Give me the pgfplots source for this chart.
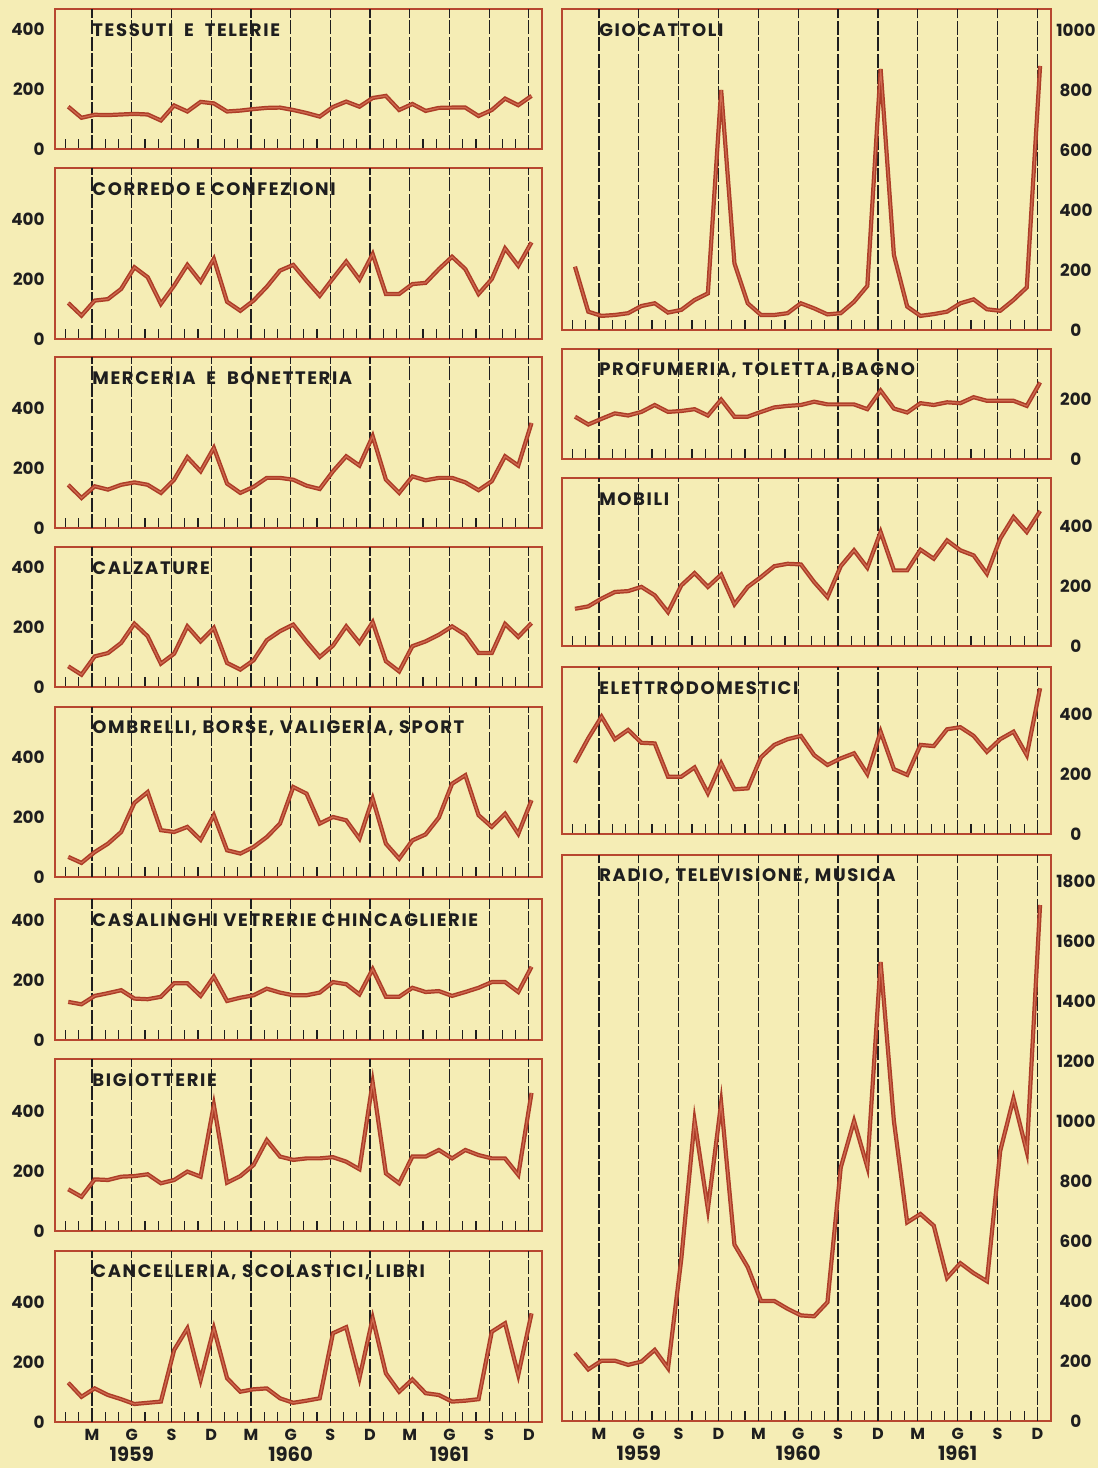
\documentclass[border=0pt]{standalone}
\usepackage{pgfplots}
\usepackage{pgfplotstable}
\pgfplotsset{compat=1.18}
\usepackage{fontspec}
\setmainfont{Poppins}
\newfontfamily\titlefam{Poppins}[LetterSpace=9]
\definecolor{bgc}{HTML}{F5EDB5}
\definecolor{frm}{HTML}{B8472F}
\definecolor{lin}{HTML}{AC3D27}
\definecolor{linc}{HTML}{CF6B50}
\definecolor{ink}{HTML}{1E1E1E}

\pgfplotstableread{
m  tes cor mer cal omb cas big can gio pro mob ele rad
1  141 120 144 69  67  127 139 131 211 141 124 238 226
2  104 78  100 41  47  119 114 84  61  115 132 319 172
3  114 128 139 102 83  147 172 112 47  134 158 391 201
4  113 133 128 113 111 156 170 90  50  152 180 316 201
5  115 167 144 147 150 166 181 76  56  145 183 347 187
6  117 239 152 211 247 138 183 60  80  157 197 304 198
7  115 206 144 169 283 136 189 64  89  180 169 302 237
8  95  117 117 78  156 144 159 68  58  157 113 191 176
9  145 178 161 111 150 189 170 240 67  160 202 191 540
10 125 247 236 202 167 189 198 312 100 166 243 222 1000
11 157 191 189 152 124 147 181 140 122 145 197 136 707
12 152 267 267 197 206 211 420 312 800 198 238 236 1060
13 125 124 148 80  89  130 161 146 222 141 139 149 588
14 128 94  117 58  78  141 183 101 89  141 197 152 513
15 133 128 137 89  100 149 220 109 50  157 230 256 400
16 137 174 167 156 133 171 303 112 50  172 266 297 400
17 138 228 167 186 178 158 248 79  56  177 274 316 374
18 130 247 161 208 300 149 237 64  89  180 272 327 352
19 120 194 141 152 278 149 242 71  72  191 213 263 349
20 108 144 130 100 178 158 242 79  52  182 163 230 396
21 140 202 189 138 200 193 246 296 56  182 266 252 845
22 158 258 239 202 189 186 231 316 94  182 319 269 1000
23 141 198 208 147 128 152 206 146 147 166 261 200 847
24 170 283 306 216 261 236 495 346 870 228 380 341 1530
25 177 150 161 86  111 144 192 162 250 168 252 216 1000
26 130 150 117 52  61  144 159 101 78  155 252 197 662
27 150 183 172 136 122 174 248 142 47  186 321 297 690
28 127 187 159 152 142 160 248 96  53  180 291 293 651
29 137 233 167 174 198 163 270 90  61  189 352 349 477
30 138 274 167 202 311 147 242 68  89  186 319 356 526
31 138 233 152 174 339 160 270 71  102 206 302 327 493
32 110 150 126 113 206 174 253 76  69  194 241 274 466
33 130 200 156 113 167 193 242 301 64  194 358 316 900
34 168 302 239 210 211 193 242 329 100 194 430 341 1075
35 146 244 208 167 144 160 187 157 142 177 380 263 898
36 177 322 350 213 256 244 460 362 880 255 450 486 1720
}\data

\newcommand\titlef{\titlefam\bfseries\fontsize{9}{10}\selectfont}
\newcommand\tickf{\bfseries\fontsize{8.4}{9}\selectfont}

\pgfplotsset{
  panel/.style={
    scale only axis, clip=false,
    xmin=0.23, xmax=37.0, ymin=0,
    axis line style={frm, line width=1pt},
    xtick={1,...,36}, xticklabels={}, xtick pos=left,
    major tick length=5pt, tick align=inside,
    xtick style={ink, line width=0.6pt},
    extra x ticks={3,6,...,36},
    extra x tick labels={},
    extra x tick style={grid=major, major grid style={ink, line width=0.6pt, dash pattern=on 7pt off 1.2pt}},
    ytick style={draw=none},
    yticklabel style={font=\tickf, text=ink},
    /pgf/number format/assume math mode=true,
    /pgf/number format/1000 sep={},
    anchor=south west,
  },
  leftp/.style={panel, width=243.35pt, yticklabel pos=left, ytick={0,200,400},
    yticklabel style={anchor=east, inner sep=0pt, xshift=-5.2pt}},
  rightp/.style={panel, width=244.3pt, yticklabel pos=right,
    yticklabel style={anchor=center, inner sep=0pt, xshift=12.6pt}},
  bottomp/.style={extra x tick labels={M,G,S,D,M,G,S,D,M,G,S,D},
    xticklabel style={anchor=center, inner sep=0pt, yshift=-6.5pt, font=\bfseries\fontsize{8}{9}\selectfont, text=ink}},
  dline/.style={lin, line width=0.75pt, double=linc, double distance=0.6pt},
}
\newcommand\ttl[1]{\node[anchor=west, inner sep=0pt, font=\titlef, text=ink, yshift=-10.5pt] at (rel axis cs:0.0753,1) {#1};}
\newcommand\yrs{%
  \node[anchor=base, inner sep=0pt, font=\bfseries\fontsize{9.8}{11}\selectfont, text=ink, yshift=-19.6pt] at (axis cs:6,0) {1959};
  \node[anchor=base, inner sep=0pt, font=\bfseries\fontsize{9.8}{11}\selectfont, text=ink, yshift=-19.6pt] at (axis cs:18,0) {1960};
  \node[anchor=base, inner sep=0pt, font=\bfseries\fontsize{9.8}{11}\selectfont, text=ink, yshift=-19.6pt] at (axis cs:30,0) {1961};}

\begin{document}
\begin{tikzpicture}
\useasboundingbox (0,0) rectangle (549pt,734pt);
\fill[bgc] (0,0) rectangle (549pt,734pt);

% ---------- left column ----------
\begin{axis}[leftp, at={(27.7pt,659.5pt)}, height=70pt, ymax=466.7]
\addplot[dline] table[x expr=\thisrow{m}+0.2, y=tes] {\data};
\ttl{TESSUTI \ E \ TELERIE}
\end{axis}

\begin{axis}[leftp, at={(27.7pt,564.5pt)}, height=85.5pt, ymax=570]
\addplot[dline] table[x expr=\thisrow{m}+0.2, y=cor] {\data};
\ttl{CORREDO E CONFEZIONI}
\end{axis}

\begin{axis}[leftp, at={(27.7pt,470pt)}, height=85.5pt, ymax=570]
\addplot[dline] table[x expr=\thisrow{m}+0.2, y=mer] {\data};
\ttl{MERCERIA \ E \ BONETTERIA}
\end{axis}

\begin{axis}[leftp, at={(27.7pt,390.5pt)}, height=70pt, ymax=466.7]
\addplot[dline] table[x expr=\thisrow{m}+0.2, y=cal] {\data};
\ttl{CALZATURE}
\end{axis}

\begin{axis}[leftp, at={(27.7pt,295.5pt)}, height=85pt, ymax=566.7]
\addplot[dline] table[x expr=\thisrow{m}+0.2, y=omb] {\data};
\ttl{OMBRELLI, BORSE, VALIGERIA, SPORT}
\end{axis}

\begin{axis}[leftp, at={(27.7pt,214pt)}, height=70.5pt, ymax=470]
\addplot[dline] table[x expr=\thisrow{m}+0.2, y=cas] {\data};
\ttl{CASALINGHI VETRERIE CHINCAGLIERIE}
\end{axis}

\begin{axis}[leftp, at={(27.7pt,118.5pt)}, height=86pt, ymax=573.3]
\addplot[dline] table[x expr=\thisrow{m}+0.2, y=big] {\data};
\ttl{BIGIOTTERIE}
\end{axis}

\begin{axis}[leftp, bottomp, at={(27.7pt,23pt)}, height=85.5pt, ymax=570]
\addplot[dline] table[x expr=\thisrow{m}+0.2, y=can] {\data};
\ttl{CANCELLERIA, SCOLASTICI, LIBRI}
\yrs
\end{axis}

% ---------- right column ----------
\begin{axis}[rightp, at={(281.05pt,569pt)}, height=160.5pt, ymax=1070, ytick={0,200,...,1000}]
\addplot[dline] table[x expr=\thisrow{m}+0.2, y=gio] {\data};
\ttl{GIOCATTOLI}
\end{axis}

\begin{axis}[rightp, at={(281.05pt,504.5pt)}, height=55pt, ymax=366.7, ytick={0,200}]
\addplot[dline] table[x expr=\thisrow{m}+0.2, y=pro] {\data};
\ttl{PROFUMERIA, TOLETTA, BAGNO}
\end{axis}

\begin{axis}[rightp, at={(281.05pt,411pt)}, height=84pt, ymax=560, ytick={0,200,400}]
\addplot[dline] table[x expr=\thisrow{m}+0.2, y=mob] {\data};
\ttl{MOBILI}
\end{axis}

\begin{axis}[rightp, at={(281.05pt,317pt)}, height=83.5pt, ymax=556.7, ytick={0,200,400}]
\addplot[dline] table[x expr=\thisrow{m}+0.2, y=ele] {\data};
\ttl{ELETTRODOMESTICI}
\end{axis}

\begin{axis}[rightp, bottomp, at={(281.05pt,23.5pt)}, height=283pt, ymax=1886.7, ytick={0,200,...,1800}]
\addplot[dline] table[x expr=\thisrow{m}+0.2, y=rad] {\data};
\ttl{RADIO, TELEVISIONE, MUSICA}
\yrs
\end{axis}
\end{tikzpicture}
\end{document}
